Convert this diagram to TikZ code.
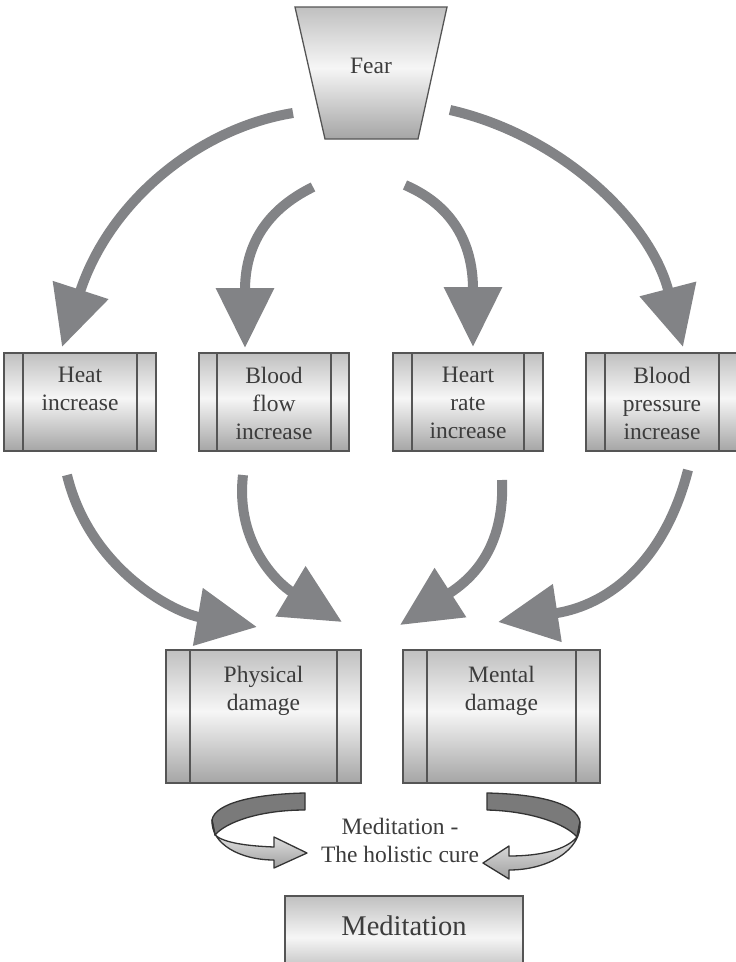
\documentclass[tikz,border=0pt]{standalone}
\usepackage{fontspec}
\setmainfont{Liberation Serif}
\usepackage{tikz}
\usetikzlibrary{arrows.meta}
\definecolor{arrowgray}{RGB}{130,131,134}
\definecolor{edgegray}{RGB}{85,85,85}
\definecolor{textgray}{RGB}{60,60,60}
\definecolor{shadelow}{RGB}{165,165,165}
\definecolor{shademid}{RGB}{246,246,246}
\definecolor{shadetop}{RGB}{192,192,192}
\definecolor{ribbondark}{RGB}{122,122,122}
\definecolor{ribbonlight}{RGB}{160,160,160}
\pgfdeclareverticalshading{boxshade}{100bp}{color(0bp)=(shadelow); color(25bp)=(shadelow); color(52bp)=(shademid); color(75bp)=(shadetop); color(100bp)=(shadetop)}
\tikzstyle{bigarrow}=[draw=arrowgray, line width=10, -{Triangle[length=60pt, width=56pt]}]
\tikzstyle{boxtext}=[text=textgray, align=center, inner sep=0, font=\fontsize{23.5}{28}\selectfont]
\tikzstyle{ribbon}=[draw=black!80, line width=1.3, line join=round]
\tikzstyle{plainbox}=[draw=edgegray, line width=1.3, shade, shading=boxshade, inner sep=0]
\tikzset{cbox/.style={plainbox, path picture={
  \draw[edgegray, line width=1.3] ([xshift=#1]path picture bounding box.north west) -- ([xshift=#1]path picture bounding box.south west)
    ([xshift=-#1]path picture bounding box.north east) -- ([xshift=-#1]path picture bounding box.south east);}}}

\begin{document}
\begin{tikzpicture}[x=1pt, y=-1pt]
    \useasboundingbox (0,0) rectangle (736,962);
    \clip (0,0) rectangle (736,962);

    \draw[plainbox] (295,7) -- (447,7) -- (418,139) -- (325,139) -- cycle;
    \node[boxtext] (fear) at (371,66) {Fear};

    \node[cbox=19, minimum width=152, minimum height=98, label={[boxtext, anchor=north, yshift=-15]north:{Heat\\increase}}] (heat) at (80,402) {};
    \node[cbox=18, minimum width=150, minimum height=98, label={[boxtext, anchor=north, yshift=-15]north:{Blood\\flow\\increase}}] (flow) at (274,402) {};
    \node[cbox=19, minimum width=150, minimum height=98, label={[boxtext, anchor=north, yshift=-15]north:{Heart\\rate\\increase}}] (rate) at (468,402) {};
    \node[cbox=19, minimum width=152, minimum height=98, label={[boxtext, anchor=north, yshift=-15]north:{Blood\\pressure\\increase}}] (pressure) at (662,402) {};

    \node[cbox=24, minimum width=195, minimum height=133, label={[boxtext, anchor=north, yshift=-17]north:{Physical\\damage}}] (physical) at (263.5,716.5) {};
    \node[cbox=24, minimum width=197, minimum height=133, label={[boxtext, anchor=north, yshift=-17]north:{Mental\\damage}}] (mental) at (501.5,716.5) {};

    \node[plainbox, minimum width=238, minimum height=90, label={[boxtext, font=\fontsize{28.5}{34}\selectfont, anchor=north, yshift=-20]north:Meditation}] (meditation) at (404,941) {};
    \node[boxtext] (cure) at (400,840) {Meditation -\\The holistic cure};

    \coordinate (f1) at (293,113); \coordinate (t1) at (62,347);
    \coordinate (f2) at (313,187); \coordinate (t2) at (245,348);
    \coordinate (f3) at (405,185); \coordinate (t3) at (473,347);
    \coordinate (f4) at (450,110); \coordinate (t4) at (683,347);
    \coordinate (h1) at (67,475);  \coordinate (p1) at (257,627);
    \coordinate (h2) at (243,475); \coordinate (p2) at (342,622);
    \coordinate (h3) at (502,480); \coordinate (m1) at (400,625);
    \coordinate (h4) at (688,470); \coordinate (m2) at (498,622);

    \draw[bigarrow] (f1) .. controls (200,128) and (110,200) .. (t1);
    \draw[bigarrow] (f2) .. controls (262,212) and (245,250) .. (t2);
    \draw[bigarrow] (f3) .. controls (458,208) and (473,250) .. (t3);
    \draw[bigarrow] (f4) .. controls (560,135) and (650,220) .. (t4);
    \draw[bigarrow] (h1) .. controls (90,570) and (175,613) .. (p1);
    \draw[bigarrow] (h2) .. controls (235,545) and (280,585) .. (p2);
    \draw[bigarrow] (h3) .. controls (505,550) and (470,580) .. (m1);
    \draw[bigarrow] (h4) .. controls (665,560) and (610,605) .. (m2);

    \draw[ribbon, fill=ribbondark] (305,793) .. controls (255,794) and (215,803) .. (212,820) -- (215,835) .. controls (226,822) and (260,810) .. (305,810) -- cycle;
    \draw[ribbon, top color=white, bottom color=ribbonlight] (212,820) .. controls (211,844) and (240,860) .. (274,860) -- (274,868) -- (307,853) -- (274,837) -- (274,847) .. controls (248,846) and (224,843) .. (215,835) -- cycle;
    \draw[ribbon, fill=ribbondark] (487,793) .. controls (537,794) and (577,803) .. (580,822) -- (577,837) .. controls (566,824) and (531,811) .. (487,810) -- cycle;
    \draw[ribbon, top color=white, bottom color=ribbonlight] (580,822) .. controls (582,850) and (548,870) .. (509,870) -- (509,879) -- (483,863) -- (509,846) -- (509,856) .. controls (540,856) and (566,850) .. (577,837) -- cycle;
\end{tikzpicture}
\end{document}
